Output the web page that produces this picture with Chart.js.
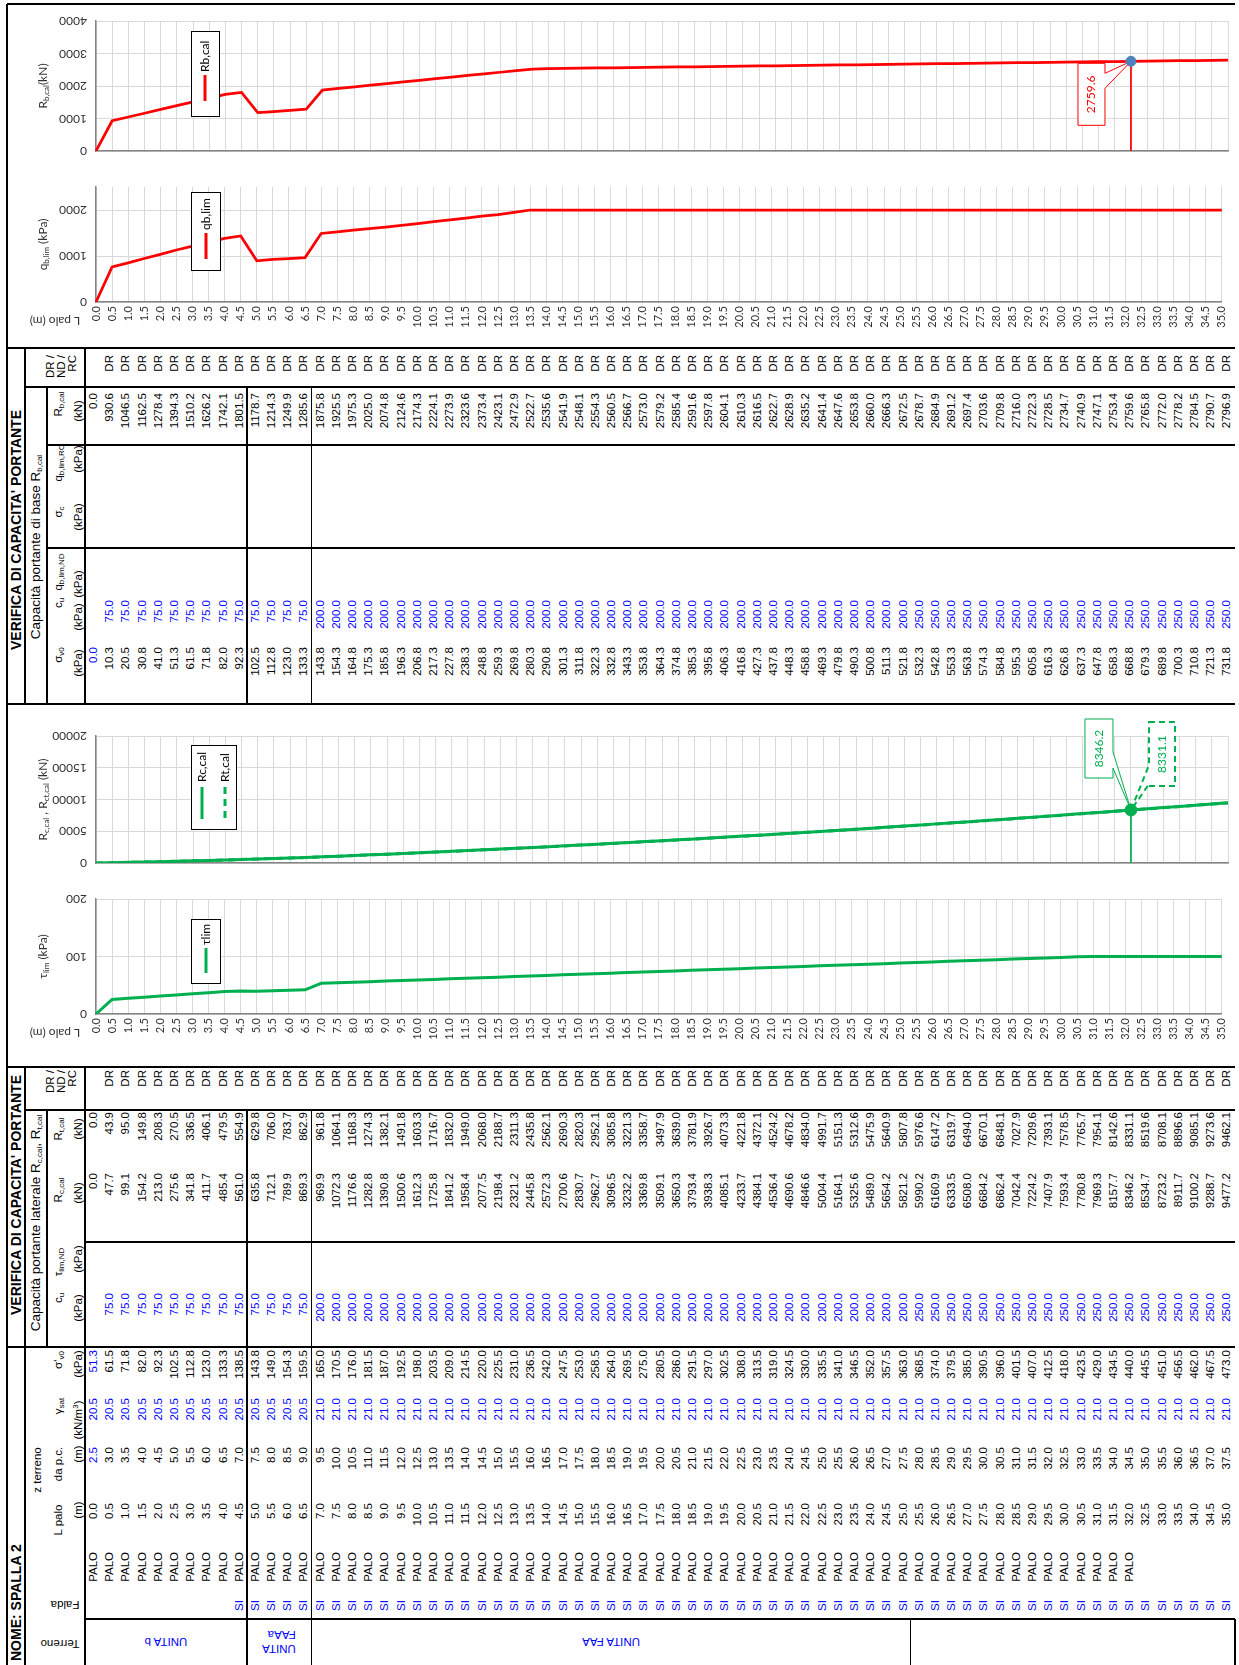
<!DOCTYPE html>
<html>
<head>
<meta charset="utf-8">
<script src="https://cdn.jsdelivr.net/npm/chart.js@4.4.1/dist/chart.umd.min.js"></script>
<style>
  html, body { margin: 0; padding: 0; background: #fff; }
  body { width: 1239px; height: 1665px; position: relative; overflow: hidden; font-family: "Liberation Sans", Arial, sans-serif; }
  /* the sheet is laid out landscape and turned a quarter turn */
  #sheet { position: absolute; left: 0; top: 0; width: 1665px; height: 1239px; transform-origin: 0 0; transform: translate(0, 1665px) rotate(-90deg); }
  #sheet .ln { position: absolute; background: #000; }
  #sheet .t { position: absolute; white-space: nowrap; font-size: 11.5px; line-height: 14px; color: #000; }
  #sheet .b { font-weight: bold; font-size: 14px; }
  #sheet .st { font-size: 13.5px; }
  #sheet .blue { color: #0000ff; }
  #sheet sub { font-size: 8px; vertical-align: -2px; line-height: 0; }
  #sheet sup { font-size: 8px; vertical-align: 4px; line-height: 0; }
  canvas.cv { position: absolute; left: 0; }
</style>
</head>
<body>
<div id="sheet"></div>
<canvas id="cRb" class="cv" style="top:0px" width="1239" height="165"></canvas>
<canvas id="cQb" class="cv" style="top:165px" width="1239" height="180"></canvas>
<canvas id="cRc" class="cv" style="top:705px" width="1239" height="165"></canvas>
<canvas id="cTau" class="cv" style="top:870px" width="1239" height="190"></canvas>
<script>
// ---------- data ----------
const lPalo = [0.0,0.5,1.0,1.5,2.0,2.5,3.0,3.5,4.0,4.5,5.0,5.5,6.0,6.5,7.0,7.5,8.0,8.5,9.0,9.5,10.0,10.5,11.0,11.5,12.0,12.5,13.0,13.5,14.0,14.5,15.0,15.5,16.0,16.5,17.0,17.5,18.0,18.5,19.0,19.5,20.0,20.5,21.0,21.5,22.0,22.5,23.0,23.5,24.0,24.5,25.0,25.5,26.0,26.5,27.0,27.5,28.0,28.5,29.0,29.5,30.0,30.5,31.0,31.5,32.0,32.5,33.0,33.5,34.0,34.5,35.0];
const zTerreno = [2.5,3.0,3.5,4.0,4.5,5.0,5.5,6.0,6.5,7.0,7.5,8.0,8.5,9.0,9.5,10.0,10.5,11.0,11.5,12.0,12.5,13.0,13.5,14.0,14.5,15.0,15.5,16.0,16.5,17.0,17.5,18.0,18.5,19.0,19.5,20.0,20.5,21.0,21.5,22.0,22.5,23.0,23.5,24.0,24.5,25.0,25.5,26.0,26.5,27.0,27.5,28.0,28.5,29.0,29.5,30.0,30.5,31.0,31.5,32.0,32.5,33.0,33.5,34.0,34.5,35.0,35.5,36.0,36.5,37.0,37.5];
const gammaSat = [20.5,20.5,20.5,20.5,20.5,20.5,20.5,20.5,20.5,20.5,20.5,20.5,20.5,20.5,
  21.0,21.0,21.0,21.0,21.0,21.0,21.0,21.0,21.0,21.0,
  21.0,21.0,21.0,21.0,21.0,21.0,21.0,21.0,21.0,21.0,
  21.0,21.0,21.0,21.0,21.0,21.0,21.0,21.0,21.0,21.0,
  21.0,21.0,21.0,21.0,21.0,21.0,21.0,21.0,21.0,21.0,
  21.0,21.0,21.0,21.0,21.0,21.0,21.0,21.0,21.0,21.0,
  21.0,21.0,21.0,21.0,21.0,21.0,21.0];
const sigmaEff = [51.3,61.5,71.8,82.0,92.3,102.5,112.8,123.0,133.3,138.5,143.8,149.0,154.3,159.5,165.0,170.5,176.0,181.5,187.0,192.5,198.0,203.5,209.0,214.5,220.0,225.5,231.0,236.5,242.0,247.5,253.0,258.5,264.0,269.5,275.0,280.5,286.0,291.5,297.0,302.5,308.0,313.5,319.0,324.5,330.0,335.5,341.0,346.5,352.0,357.5,363.0,368.5,374.0,379.5,385.0,390.5,396.0,401.5,407.0,412.5,418.0,423.5,429.0,434.5,440.0,445.5,451.0,456.5,462.0,467.5,473.0];
const falda = ['','','','','','','','','','SI','SI','SI','SI','SI','SI','SI','SI','SI','SI','SI','SI','SI','SI','SI','SI','SI','SI','SI','SI','SI','SI','SI','SI','SI','SI','SI','SI','SI','SI','SI','SI','SI','SI','SI','SI','SI','SI','SI','SI','SI','SI','SI','SI','SI','SI','SI','SI','SI','SI','SI','SI','SI','SI','SI','SI','SI','SI','SI','SI','SI','SI'];
const palo = ['PALO','PALO','PALO','PALO','PALO','PALO','PALO','PALO','PALO','PALO','PALO','PALO','PALO','PALO','PALO','PALO','PALO','PALO','PALO','PALO','PALO','PALO','PALO','PALO','PALO','PALO','PALO','PALO','PALO','PALO','PALO','PALO','PALO','PALO','PALO','PALO','PALO','PALO','PALO','PALO','PALO','PALO','PALO','PALO','PALO','PALO','PALO','PALO','PALO','PALO','PALO','PALO','PALO','PALO','PALO','PALO','PALO','PALO','PALO','PALO','PALO','PALO','PALO','PALO','PALO','','','','','',''];
const cu = [null,75.0,75.0,75.0,75.0,75.0,75.0,75.0,75.0,75.0,75.0,75.0,75.0,75.0,
  200.0,200.0,200.0,200.0,200.0,200.0,200.0,200.0,200.0,200.0,
  200.0,200.0,200.0,200.0,200.0,200.0,200.0,200.0,200.0,200.0,
  200.0,200.0,200.0,200.0,200.0,200.0,200.0,200.0,200.0,200.0,
  200.0,200.0,200.0,200.0,200.0,200.0,200.0,
  250.0,250.0,250.0,250.0,250.0,250.0,250.0,250.0,250.0,250.0,
  250.0,250.0,250.0,250.0,250.0,250.0,250.0,250.0,250.0,250.0];
const verifica = ['','DR','DR','DR','DR','DR','DR','DR','DR','DR','DR','DR','DR','DR','DR','DR','DR','DR','DR','DR','DR','DR','DR','DR','DR','DR','DR','DR','DR','DR','DR','DR','DR','DR','DR','DR','DR','DR','DR','DR','DR','DR','DR','DR','DR','DR','DR','DR','DR','DR','DR','DR','DR','DR','DR','DR','DR','DR','DR','DR','DR','DR','DR','DR','DR','DR','DR','DR','DR','DR','DR'];
const RcCal = [0.0,47.7,99.1,154.2,213.0,275.6,341.8,411.7,485.4,561.0,635.8,712.1,789.9,869.3,969.9,1072.3,1176.6,1282.8,1390.8,1500.6,1612.3,1725.8,1841.2,1958.4,2077.5,2198.4,2321.2,2445.8,2572.3,2700.6,2830.7,2962.7,3096.5,3232.2,3369.8,3509.1,3650.3,3793.4,3938.3,4085.1,4233.7,4384.1,4536.4,4690.6,4846.6,5004.4,5164.1,5325.6,5489.0,5654.2,5821.2,5990.2,6160.9,6333.5,6508.0,6684.2,6862.4,7042.4,7224.2,7407.9,7593.4,7780.8,7969.3,8157.7,8346.2,8534.7,8723.2,8911.7,9100.2,9288.7,9477.2];
const RtCal = [0.0,43.9,95.0,149.8,208.3,270.5,336.5,406.1,479.5,554.9,629.8,706.0,783.7,862.9,961.8,1064.1,1168.3,1274.3,1382.1,1491.8,1603.3,1716.7,1832.0,1949.0,2068.0,2188.7,2311.3,2435.8,2562.1,2690.3,2820.3,2952.1,3085.8,3221.3,3358.7,3497.9,3639.0,3781.9,3926.7,4073.3,4221.8,4372.1,4524.2,4678.2,4834.0,4991.7,5151.3,5312.6,5475.9,5640.9,5807.8,5976.6,6147.2,6319.7,6494.0,6670.1,6848.1,7027.9,7209.6,7393.1,7578.5,7765.7,7954.1,8142.6,8331.1,8519.6,8708.1,8896.6,9085.1,9273.6,9462.1];
const sigmaV0 = [0.0,10.3,20.5,30.8,41.0,51.3,61.5,71.8,82.0,92.3,102.5,112.8,123.0,133.3,143.8,154.3,164.8,175.3,185.8,196.3,206.8,217.3,227.8,238.3,248.8,259.3,269.8,280.3,290.8,301.3,311.8,322.3,332.8,343.3,353.8,364.3,374.8,385.3,395.8,406.3,416.8,427.3,437.8,448.3,458.8,469.3,479.8,490.3,500.8,511.3,521.8,532.3,542.8,553.3,563.8,574.3,584.8,595.3,605.8,616.3,626.8,637.3,647.8,658.3,668.8,679.3,689.8,700.3,710.8,721.3,731.8];
const RbCal = [0.0,930.6,1046.5,1162.5,1278.4,1394.3,1510.2,1626.2,1742.1,1801.5,1178.7,1214.3,1249.9,1285.6,1875.8,1925.5,1975.3,2025.0,2074.8,2124.6,2174.3,2224.1,2273.9,2323.6,2373.4,2423.1,2472.9,2522.7,2535.6,2541.9,2548.1,2554.3,2560.5,2566.7,2573.0,2579.2,2585.4,2591.6,2597.8,2604.1,2610.3,2616.5,2622.7,2628.9,2635.2,2641.4,2647.6,2653.8,2660.0,2666.3,2672.5,2678.7,2684.9,2691.2,2697.4,2703.6,2709.8,2716.0,2722.3,2728.5,2734.7,2740.9,2747.1,2753.4,2759.6,2765.8,2772.0,2778.2,2784.5,2790.7,2796.9];
const qbLim = [0,760,850,945,1035,1130,1215,1300,1385,1435,895,925,945,965,1490,1525,1560,1595,1630,1665,1705,1745,1785,1825,1865,1900,1950,
  2000,2000,2000,2000,2000,2000,2000,2000,2000,2000,2000,2000,2000,2000,2000,2000,2000,2000,2000,2000,2000,2000,
  2000,2000,2000,2000,2000,2000,2000,2000,2000,2000,2000,2000,2000,2000,2000,2000,2000,2000,2000,2000,2000,2000,2000,2000];
const tauLim = [0.0,25.3,27.3,29.2,31.2,33.2,35.1,37.1,39.1,40.1,39.7,40.5,41.3,42.1,53.4,54.3,55.3,56.3,57.3,58.2,59.3,60.2,61.2,62.2,63.2,64.1,65.1,66.1,67.1,68.1,69.0,70.0,71.0,72.0,73.0,73.9,74.9,75.9,76.9,77.9,78.8,79.8,80.8,81.8,82.8,83.7,84.7,85.7,86.7,87.6,88.6,89.7,90.6,91.6,92.6,93.5,94.5,95.5,96.4,97.5,98.4,99.4,100.0,100.0,100.0,100.0,100.0,100.0,100.0,100.0,100.0];
const terreno = [
  { from: 0, to: 9, label: 'UNITA b' },
  { from: 10, to: 13, label: 'UNITA<br>FAAa' },
  { from: 14, to: 50, label: 'UNITA FAA' },
  { from: 51, to: 70, label: '' }
];
const ticksRb = [0, 1000, 2000, 3000, 4000];
const ticksQb = [0, 1000, 2000];
const ticksRc = [0, 5000, 10000, 15000, 20000];
const ticksTau = [0, 100, 200];
const selDepth = '32.0';

const depthLabels = lPalo.map(v => v.toFixed(1));
const iSel = depthLabels.indexOf(selDepth);
const f1 = v => (v === null || v === undefined) ? '' : v.toFixed(1);

// ---------- sheet (landscape coordinates) ----------
const S = document.getElementById('sheet');
const rowY = i => 93 + i * 16.19;
function L(x1, y1, x2, y2, w) {
  w = w || 1.5;
  const d = document.createElement('div');
  d.className = 'ln';
  if (y1 === y2) d.style.cssText = `left:${x1}px;top:${y1 - w / 2}px;width:${x2 - x1}px;height:${w}px`;
  else d.style.cssText = `left:${x1 - w / 2}px;top:${y1}px;width:${w}px;height:${y2 - y1}px`;
  S.appendChild(d);
}
function T(x, y, html, anchor, cls, rot) {
  const d = document.createElement('div');
  d.className = 't ' + (cls || '');
  d.innerHTML = html;
  const tx = anchor === 'r' ? '-100%' : anchor === 'c' ? '-50%' : '0';
  d.style.left = x + 'px';
  d.style.top = y + 'px';
  d.style.transform = `translate(${tx},-50%)` + (rot ? ` rotate(${rot}deg)` : '');
  S.appendChild(d);
}

// frame and section borders
L(0, 7, 1661, 7); L(1661, 7, 1661, 1235);
[318, 598, 961, 1317].forEach(x => L(x, 7, x, 1235));
L(0, 25, 598, 25); L(961, 25, 1317, 25);
L(0, 85, 598, 85); L(961, 85, 1317, 85);
L(318, 47, 555, 47); L(961, 47, 1278, 47);
L(555, 25, 555, 1235); L(1278, 25, 1278, 1235);
L(1220, 47, 1220, 1235); L(1117, 47, 1117, 1235);
L(423, 85, 423, 1235);
L(46, 85, 46, 1235);
const g1 = (rowY(9) + rowY(10)) / 2, g2 = (rowY(13) + rowY(14)) / 2, g3 = (rowY(50) + rowY(51)) / 2;
[g1, g2].forEach(y => { L(0, y, 555, y); L(961, y, 1278, y); });
L(0, g3, 46, g3); L(0, 1235, 46, 1235);

// titles
T(4, 16, 'NOME: SPALLA 2', 'l', 'b');
T(470, 16, "VERIFICA DI CAPACITA' PORTANTE", 'c', 'b');
T(1135, 16, "VERIFICA DI CAPACITA' PORTANTE", 'c', 'b');
T(442, 36, 'Capacità portante laterale R<sub>c,cal</sub>, R<sub>t,cal</sub>', 'c', 'st');
T(1118, 36, 'Capacità portante di base R<sub>b,cal</sub>', 'c', 'st');

// soil headers
T(21, 60, 'Terreno', 'c', '', -90);
T(60, 65, 'Falda', 'c', '', -90);
T(145, 58, 'L palo', 'c'); T(155, 78, '(m)', 'c');
T(195, 37, 'z terreno', 'c'); T(201, 58, 'da p.c.', 'c'); T(211, 78, '(m)', 'c');
T(259, 58, '&gamma;<sub>sat</sub>', 'c'); T(245, 78, '(kN/m<sup>3</sup>)', 'c');
T(305, 58, "&sigma;'<sub>v0</sub>", 'c'); T(301, 78, '(kPa)', 'c');
// lateral headers
T(367, 58, 'c<sub>u</sub>', 'c'); T(357, 78, '(kPa)', 'c');
T(403, 58, '&tau;<sub>lim,ND</sub>', 'c'); T(406, 78, '(kPa)', 'c');
T(475, 58, 'R<sub>c,cal</sub>', 'c'); T(472, 78, '(kN)', 'c');
T(536, 58, 'R<sub>t,cal</sub>', 'c'); T(536, 78, '(kN)', 'c');
T(595, 50, 'DR /', 'r'); T(595, 61, 'ND /', 'r'); T(595, 72, 'RC', 'r');
// base headers
T(1010, 58, '&sigma;<sub>v0</sub>', 'c'); T(1002, 78, '(kPa)', 'c');
T(1062, 58, 'c<sub>u</sub>', 'c'); T(1048, 78, '(kPa)', 'c');
T(1093, 58, 'q<sub>b,lim,ND</sub>', 'c'); T(1081, 78, '(kPa)', 'c');
T(1153, 58, '&sigma;<sub>c</sub>', 'c'); T(1148, 78, '(kPa)', 'c');
T(1202, 58, 'q<sub>b,lim,RC</sub>', 'c'); T(1206, 78, '(kPa)', 'c');
T(1261, 58, 'R<sub>b,cal</sub>', 'c'); T(1254, 78, '(kN)', 'c');
T(1310, 50, 'DR /', 'r'); T(1310, 61, 'ND /', 'r'); T(1310, 72, 'RC', 'r');

// soil units
terreno.forEach(u => {
  if (!u.label) return;
  const yc = (rowY(u.from) + rowY(u.to)) / 2;
  T(23, yc, u.label, 'c', 'blue', -90);
});

// table rows
lPalo.forEach((lp, i) => {
  const y = rowY(i);
  if (falda[i]) T(65, y, falda[i], 'r', 'blue');
  if (palo[i]) T(113, y, palo[i], 'r');
  T(162, y, f1(lp), 'r');
  T(218, y, f1(zTerreno[i]), 'r', i === 0 ? 'blue' : '');
  T(267, y, f1(gammaSat[i]), 'r', 'blue');
  T(315, y, f1(sigmaEff[i]), 'r', i === 0 ? 'blue' : '');
  if (cu[i] !== null) T(372, y, f1(cu[i]), 'r', 'blue');
  T(492, y, f1(RcCal[i]), 'r');
  T(553, y, f1(RtCal[i]), 'r');
  if (verifica[i]) T(595, y, verifica[i], 'r');
  T(1018, y, f1(sigmaV0[i]), 'r', i === 0 ? 'blue' : '');
  if (cu[i] !== null) T(1065, y, f1(cu[i]), 'r', 'blue');
  T(1272, y, f1(RbCal[i]), 'r');
  if (verifica[i]) T(1310, y, verifica[i], 'r');
});

// ---------- charts ----------
const RED = '#ff0000', GREEN = '#00b050', TXT = '#333333';
Chart.defaults.font.family = 'Lato, "Open Sans", sans-serif';

function drawRich(ctx, segs, x, y, rot, size, color) {
  const big = `${size}px Lato`, small = `${Math.round(size * 0.7)}px Lato`;
  let total = 0;
  segs.forEach(s => { ctx.font = s[1] ? small : big; total += ctx.measureText(s[0]).width; });
  ctx.save();
  ctx.translate(x, y); ctx.rotate(rot);
  ctx.fillStyle = color; ctx.textBaseline = 'middle'; ctx.textAlign = 'left';
  let cx = -total / 2;
  segs.forEach(s => {
    ctx.font = s[1] ? small : big;
    ctx.fillText(s[0], cx, s[1] ? 3 : 0);
    cx += ctx.measureText(s[0]).width;
  });
  ctx.restore();
}

function callout(ctx, px, py, c) {
  const x0 = px + c.box[0], y0 = py + c.box[1], x1 = px + c.box[2], y1 = py + c.box[3];
  const wa = py + c.wedge[0], wb = py + c.wedge[1];
  ctx.save();
  ctx.beginPath();
  if (c.side === 'r') {
    ctx.moveTo(x0, y0); ctx.lineTo(x1, y0); ctx.lineTo(x1, wa); ctx.lineTo(px, py);
    ctx.lineTo(x1, wb); ctx.lineTo(x1, y1); ctx.lineTo(x0, y1); ctx.closePath();
  } else {
    ctx.moveTo(x0, y0); ctx.lineTo(x1, y0); ctx.lineTo(x1, y1); ctx.lineTo(x0, y1);
    ctx.lineTo(x0, wb); ctx.lineTo(px, py); ctx.lineTo(x0, wa); ctx.closePath();
  }
  ctx.fillStyle = '#fff'; ctx.fill();
  ctx.setLineDash(c.dash || []);
  ctx.lineWidth = c.dash ? 2 : 1;
  ctx.strokeStyle = c.color; ctx.stroke();
  ctx.setLineDash([]);
  ctx.translate((x0 + x1) / 2, (y0 + y1) / 2); ctx.rotate(-Math.PI / 2);
  ctx.fillStyle = c.color; ctx.font = '12px Lato'; ctx.textAlign = 'center'; ctx.textBaseline = 'middle';
  ctx.fillText(c.value.toFixed(1), 0, 0);
  ctx.restore();
}

const decor = {
  id: 'decor',
  beforeDatasetsDraw(chart, args, o) {
    const { ctx, scales: { x, y } } = chart;
    (o.callouts || []).forEach(c => callout(ctx, x.getPixelForValue(iSel), y.getPixelForValue(c.value), c));
  },
  afterDatasetsDraw(chart, args, o) {
    const { ctx, scales: { y }, chartArea: a } = chart;
    ctx.save();
    // value tick labels, turned upside down
    ctx.font = '12px Lato'; ctx.fillStyle = TXT; ctx.textBaseline = 'middle'; ctx.textAlign = 'left';
    y.ticks.forEach(t => {
      ctx.save();
      ctx.translate(a.left - 9, y.getPixelForValue(t.value)); ctx.rotate(Math.PI);
      ctx.fillText(String(t.value), 0, 0);
      ctx.restore();
    });
    drawRich(ctx, o.title, 43, (a.top + a.bottom) / 2, -Math.PI / 2, 12, TXT);
    if (o.lpalo) drawRich(ctx, [['L palo (m)']], 55, a.bottom + 19, Math.PI, 12, TXT);
    // legend
    const lg = o.legend;
    ctx.fillStyle = '#fff'; ctx.fillRect(lg.box[0], lg.box[1], lg.box[2], lg.box[3]);
    ctx.strokeStyle = '#000'; ctx.lineWidth = 1;
    ctx.strokeRect(lg.box[0] + 0.5, lg.box[1] + 0.5, lg.box[2], lg.box[3]);
    lg.items.forEach(it => {
      ctx.beginPath(); ctx.setLineDash(it.dash || []);
      ctx.strokeStyle = it.color; ctx.lineWidth = 3;
      ctx.moveTo(it.x, it.y0); ctx.lineTo(it.x, it.y1); ctx.stroke();
      ctx.setLineDash([]);
      ctx.save(); ctx.translate(it.x, it.tb); ctx.rotate(-Math.PI / 2);
      ctx.fillStyle = '#000'; ctx.font = '12px Lato'; ctx.textAlign = 'left'; ctx.textBaseline = 'middle';
      ctx.fillText(it.text, 0, 0);
      ctx.restore();
    });
    ctx.restore();
  }
};

function lineChart(id, o) {
  return new Chart(document.getElementById(id), {
    type: 'line',
    data: { labels: depthLabels, datasets: o.datasets },
    options: {
      responsive: false, animation: false, events: [],
      layout: { padding: { left: 96, right: 11, top: o.padTop, bottom: o.padBottom } },
      elements: { line: { tension: 0 }, point: { radius: 0 } },
      scales: {
        x: {
          type: 'category',
          grid: { color: '#d9d9d9', drawTicks: false },
          border: { color: '#868686', width: 1.5 },
          ticks: { display: o.xLabels, autoSkip: false, minRotation: 90, maxRotation: 90, padding: 4, color: TXT, font: { size: 11 } },
          afterFit: s => { s.height = o.xHeight; }
        },
        y: {
          min: 0, max: o.yMax,
          grid: { color: '#d9d9d9', drawTicks: false },
          border: { color: '#868686', width: 1.5 },
          ticks: { display: false },
          afterFit: s => { s.width = 0; },
          afterBuildTicks: s => { s.ticks = o.yTicks.map(v => ({ value: v })); }
        }
      },
      plugins: { legend: { display: false }, tooltip: { enabled: false }, decor: o.decor }
    },
    plugins: [decor]
  });
}

// base resistance
lineChart('cRb', {
  padTop: 21, padBottom: 14, xHeight: 0, xLabels: false, yMax: 4000, yTicks: ticksRb,
  datasets: [
    { data: [{ x: selDepth, y: RbCal[iSel] }], showLine: false, pointRadius: 5, pointBackgroundColor: '#4f81bd', pointBorderColor: '#4f81bd' },
    { data: RbCal, borderColor: RED, borderWidth: 2.75 },
    { data: [{ x: selDepth, y: RbCal[iSel] }, { x: selDepth, y: 0 }], borderColor: RED, borderWidth: 1.75 }
  ],
  decor: {
    title: [['R'], ['b,cal', 1], ['(kN)']],
    legend: { box: [191, 31, 28, 85], items: [{ x: 205, y0: 75, y1: 101, tb: 72, text: 'Rb,cal', color: RED }] },
    callouts: [{ value: RbCal[iSel], color: RED, box: [-53, 2, -26, 64], side: 'r', wedge: [12, 27] }]
  }
});

// limit base pressure
lineChart('cQb', {
  padTop: 22, padBottom: 0, xHeight: 43, xLabels: true, yMax: 2500, yTicks: ticksQb,
  datasets: [{ data: qbLim, borderColor: RED, borderWidth: 2.75 }],
  decor: {
    title: [['q'], ['b,lim', 1], [' (kPa)']], lpalo: true,
    legend: { box: [191, 27, 29, 78], items: [{ x: 206, y0: 68, y1: 94, tb: 65, text: 'qb,lim', color: RED }] }
  }
});

// shaft resistance, compression and tension
lineChart('cRc', {
  padTop: 31, padBottom: 7, xHeight: 0, xLabels: false, yMax: 20000, yTicks: ticksRc,
  datasets: [
    { data: [{ x: selDepth, y: RcCal[iSel] }], showLine: false, pointRadius: 6, pointBackgroundColor: GREEN, pointBorderColor: GREEN },
    { data: RcCal, borderColor: GREEN, borderWidth: 3 },
    { data: RtCal, borderColor: GREEN, borderWidth: 3, borderDash: [7, 5] },
    { data: [{ x: selDepth, y: RcCal[iSel] }, { x: selDepth, y: 0 }], borderColor: GREEN, borderWidth: 1.75 }
  ],
  decor: {
    title: [['R'], ['c,cal', 1], [' , R'], ['ct,cal', 1], [' (kN)']],
    legend: { box: [191, 40, 45, 84], items: [
      { x: 202, y0: 82, y1: 114, tb: 77, text: 'Rc,cal', color: GREEN },
      { x: 225, y0: 82, y1: 114, tb: 77, text: 'Rt,cal', color: GREEN, dash: [7, 5] }
    ] },
    callouts: [
      { value: RcCal[iSel], color: GREEN, box: [-46, -91, -18, -32], side: 'r', wedge: [-58, -42] },
      { value: RtCal[iSel], color: GREEN, dash: [6, 4], box: [18, -88, 44, -24], side: 'l', wedge: [-45, -26] }
    ]
  }
});

// limit shaft friction
lineChart('cTau', {
  padTop: 29, padBottom: 0, xHeight: 46, xLabels: true, yMax: 200, yTicks: ticksTau,
  datasets: [{ data: tauLim, borderColor: GREEN, borderWidth: 3 }],
  decor: {
    title: [['τ'], ['lim', 1], [' (kPa)']], lpalo: true,
    legend: { box: [191, 49, 29, 64], items: [{ x: 206, y0: 78, y1: 103, tb: 75, text: 'τlim', color: GREEN }] }
  }
});
</script>
</body>
</html>
